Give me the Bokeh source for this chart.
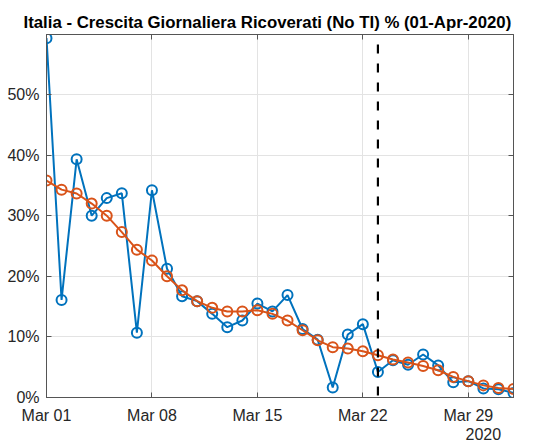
import pandas as pd
from bokeh.plotting import figure
from bokeh.models import (FixedTicker, DatetimeTickFormatter, NumeralTickFormatter,
                          LinearAxis, DatetimeAxis, Range1d, Span)
from bokeh.embed import file_html
from bokeh.resources import INLINE

# ---------------- data ----------------
dates = pd.date_range("2020-03-01", "2020-04-01", freq="D")
growth = [0.593, 0.161, 0.393, 0.300, 0.329, 0.337, 0.107, 0.342, 0.2125, 0.167,
          0.159, 0.138, 0.116, 0.127, 0.155, 0.142, 0.169, 0.113, 0.0955, 0.0165,
          0.104, 0.121, 0.042, 0.0615, 0.054, 0.071, 0.053, 0.025, 0.027, 0.015,
          0.0137, 0.0076]
trend = [0.358, 0.343, 0.3366, 0.320, 0.300, 0.273, 0.244, 0.226, 0.200, 0.177,
         0.159, 0.148, 0.142, 0.142, 0.144, 0.138, 0.127, 0.111, 0.0944, 0.083,
         0.0807, 0.0763, 0.0697, 0.0626, 0.0577, 0.052, 0.045, 0.034, 0.027, 0.020,
         0.0158, 0.014]
x_tick_dates = ["2020-03-01", "2020-03-08", "2020-03-15", "2020-03-22", "2020-03-29"]
y_ticks = [0.0, 0.1, 0.2, 0.3, 0.4, 0.5]
y_max = 0.599
marker_date = "2020-03-23"
year_label_date = "2020-03-30"   # tick position of the "2020" secondary label
title = "Italia - Crescita Giornaliera Ricoverati (No TI) % (01-Apr-2020)"

BLUE = "#0072BD"
ORANGE = "#D95319"
FONT = "Liberation Sans"
AXIS_COLOR = "#555555"
TEXT_COLOR = "#262626"
FS = "16px"


def ms(d):
    return pd.Timestamp(d).value // 10**6


x_ticks_ms = [ms(d) for d in x_tick_dates]

p = figure(width=536, height=444, output_backend="svg",
           toolbar_location=None, x_axis_type="datetime",
           x_range=Range1d(dates[0], dates[-1]), y_range=Range1d(0, y_max),
           min_border_left=46, min_border_right=23, min_border_top=34,
           min_border_bottom=47, background_fill_color="white",
           border_fill_color="white")

p.title.text = title
p.title.text_font = FONT
p.title.text_font_size = "16.8px"
p.title.text_font_style = "bold"
p.title.text_color = "black"
p.title.align = "left"
p.title.offset = -23
p.title.standoff = 5

p.outline_line_color = AXIS_COLOR

# grid
p.xgrid.ticker = FixedTicker(ticks=x_ticks_ms)
p.ygrid.ticker = FixedTicker(ticks=y_ticks)
for g in (p.xgrid, p.ygrid):
    g.grid_line_color = "#e3e3e3"
    g.grid_line_width = 1


def style_axis(ax, labels=True):
    ax.axis_line_color = AXIS_COLOR
    ax.axis_line_width = 1
    ax.major_tick_line_color = AXIS_COLOR
    ax.major_tick_in = 5
    ax.major_tick_out = 0
    ax.minor_tick_line_color = None
    ax.major_label_text_font = FONT
    ax.major_label_text_font_size = FS
    ax.major_label_text_color = TEXT_COLOR
    if not labels:
        ax.major_label_text_color = None
        ax.major_label_text_font_size = "1px"
        ax.major_label_standoff = 0


xfmt = DatetimeTickFormatter(days="%b %d", months="%b %d")
xa = p.xaxis[0]
xa.ticker = FixedTicker(ticks=x_ticks_ms)
xa.formatter = xfmt
style_axis(xa)
xa.major_label_standoff = 9

# secondary "year" row under the date labels
year_axis = DatetimeAxis(ticker=FixedTicker(ticks=[ms(year_label_date)]),
                         formatter=DatetimeTickFormatter(days="%Y", months="%Y"))
style_axis(year_axis)
year_axis.axis_line_color = None
year_axis.major_tick_line_color = None
year_axis.major_tick_in = 0
year_axis.major_label_standoff = 1
p.add_layout(year_axis, "below")

ya = p.yaxis[0]
ya.ticker = FixedTicker(ticks=y_ticks)
ya.formatter = NumeralTickFormatter(format="0%")
style_axis(ya)
ya.major_label_standoff = 7

top = DatetimeAxis(ticker=FixedTicker(ticks=x_ticks_ms), formatter=xfmt)
style_axis(top, labels=False)
p.add_layout(top, "above")
right = LinearAxis(ticker=FixedTicker(ticks=y_ticks))
style_axis(right, labels=False)
p.add_layout(right, "right")

# data
p.line(dates, growth, line_color=BLUE, line_width=2)
p.scatter(dates, growth, marker="circle", size=10, line_color=BLUE, line_width=2,
          fill_color=None)
p.line(dates, trend, line_color=ORANGE, line_width=2)
p.scatter(dates, trend, marker="circle", size=10, line_color=ORANGE, line_width=2,
          fill_color=None)

p.add_layout(Span(location=ms(marker_date), dimension="height", line_color="black",
                  line_width=2.2, line_dash="9 10", line_dash_offset=9))

open("out.html", "w").write(file_html(p, INLINE))
